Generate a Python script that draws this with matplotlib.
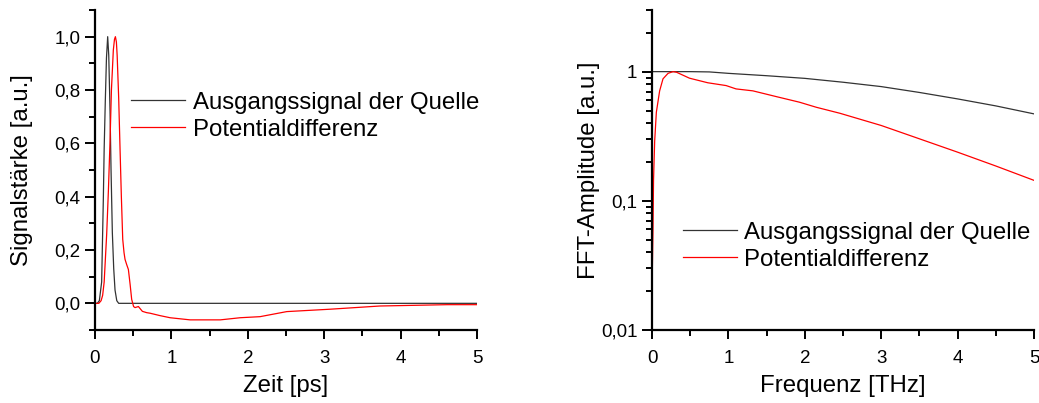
import numpy as np
import matplotlib.pyplot as plt
from matplotlib.ticker import MultipleLocator, FuncFormatter, LogLocator, NullFormatter

plt.rcParams['font.family'] = ['Liberation Sans', 'DejaVu Sans']

# Zeitbereich: Ausgangssignal der Quelle
t_src = [0.0, 0.03, 0.057, 0.087, 0.109, 0.12, 0.135, 0.15, 0.166, 0.18, 0.197, 0.21, 0.227, 0.245,
         0.262, 0.285, 0.31, 0.5, 1.0, 2.0, 3.0, 4.0, 5.0]
y_src = [0.0, 0.0, 0.01, 0.08, 0.39, 0.58, 0.76, 0.92, 1.0, 0.93, 0.72, 0.5, 0.265, 0.13,
         0.05, 0.01, 0.0, 0.0, 0.0, 0.0, 0.0, 0.0, 0.0]

# Zeitbereich: Potentialdifferenz
t_pot = [0.0, 0.05, 0.08, 0.10, 0.12, 0.153, 0.175, 0.197, 0.215, 0.24, 0.255, 0.267, 0.28, 0.29,
         0.31, 0.328, 0.345, 0.363, 0.38, 0.393, 0.415, 0.437, 0.46, 0.48, 0.505, 0.524,
         0.568, 0.62, 0.677, 0.72, 0.85, 0.983, 1.245, 1.64, 1.9, 2.16, 2.51, 3.08, 3.73, 4.61, 5.0]
y_pot = [0.0, 0.0, 0.01, 0.03, 0.08, 0.26, 0.42, 0.61, 0.8, 0.95, 0.99, 1.0, 0.98, 0.93,
         0.77, 0.577, 0.4, 0.24, 0.19, 0.165, 0.145, 0.127, 0.07, 0.015, -0.012, -0.016,
         -0.012, -0.03, -0.035, -0.037, -0.046, -0.054, -0.062, -0.062, -0.054, -0.05, -0.031, -0.022, -0.01, -0.005, -0.005]

# Frequenzbereich
f_src = [0.0, 0.5, 0.75, 1.0, 1.5, 2.0, 2.5, 3.0, 3.5, 4.0, 4.5, 5.0]
a_src = [1.0, 1.0, 0.995, 0.97, 0.93, 0.887, 0.828, 0.766, 0.69, 0.615, 0.543, 0.471]

f_pot = [0.005, 0.013, 0.02, 0.035, 0.057, 0.1, 0.144, 0.21, 0.275, 0.32, 0.49, 0.73, 0.97, 1.1,
         1.32, 1.63, 1.93, 2.15, 2.46, 3.0, 3.5, 4.0, 4.5, 5.0]
a_pot = [0.031, 0.06, 0.144, 0.29, 0.485, 0.71, 0.88, 0.97, 1.0, 0.99, 0.89, 0.82, 0.78, 0.735,
         0.71, 0.64, 0.58, 0.53, 0.476, 0.383, 0.302, 0.238, 0.186, 0.144]

fig = plt.figure(figsize=(10.39, 4.03), dpi=100)
W, H = 1039, 403
ax1 = fig.add_axes([95 / W, 1 - 330 / H, 382 / W, 320 / H])
ax2 = fig.add_axes([652 / W, 1 - 330 / H, 382 / W, 320 / H])

fs_lab = 17.3
fs_tick = 13.5

for ax in (ax1, ax2):
    for s in ('top', 'right'):
        ax.spines[s].set_visible(False)
    for s in ('left', 'bottom'):
        ax.spines[s].set_linewidth(1.6)
    ax.tick_params(which='major', direction='out', length=7, width=1.4, labelsize=fs_tick, pad=3.5)
    ax.tick_params(which='minor', direction='out', length=4.5, width=1.4)
    ax.tick_params(axis='x', which='major', length=6.5, pad=8)
    ax.set_xlim(0, 5)
    ax.xaxis.set_major_locator(MultipleLocator(1))
    ax.xaxis.set_minor_locator(MultipleLocator(0.5))

ax1.plot(t_src, y_src, color='#333333', lw=0.9, label='Ausgangssignal der Quelle')
ax1.plot(t_pot, y_pot, color='red', lw=0.9, label='Potentialdifferenz')
ax1.set_ylim(-0.1, 1.1)
ax1.yaxis.set_major_locator(MultipleLocator(0.2))
ax1.yaxis.set_minor_locator(MultipleLocator(0.1))
ax1.yaxis.set_major_formatter(FuncFormatter(lambda v, p: ('%.1f' % v).replace('.', ',').replace('-0,0', '0,0')))
ax1.set_xlabel('Zeit [ps]', fontsize=fs_lab)
ax1.set_ylabel('Signalstärke [a.u.]', fontsize=fs_lab)
ax1.xaxis.set_label_coords(0.5, -0.14)
ax1.yaxis.set_label_coords(-0.162, 0.5)
ax1.legend(loc='upper left', bbox_to_anchor=(0.07, 0.775), frameon=False, fontsize=fs_lab,
           handlelength=2.25, handletextpad=0.3, labelspacing=0.22, borderaxespad=0)

ax2.plot(f_src, a_src, color='#333333', lw=0.9, label='Ausgangssignal der Quelle')
ax2.plot(f_pot, a_pot, color='red', lw=0.9, label='Potentialdifferenz')
ax2.set_yscale('log')
ax2.set_ylim(0.01, 3)
ax2.yaxis.set_major_locator(LogLocator(base=10, numticks=10))
ax2.yaxis.set_minor_locator(LogLocator(base=10, subs=np.arange(2, 10), numticks=20))
ax2.yaxis.set_major_formatter(FuncFormatter(lambda v, p: ('%g' % v).replace('.', ',')))
ax2.yaxis.set_minor_formatter(NullFormatter())
ax2.set_xlabel('Frequenz [THz]', fontsize=fs_lab)
ax2.set_ylabel('FFT-Amplitude [a.u.]', fontsize=fs_lab)
ax2.xaxis.set_label_coords(0.5, -0.14)
ax2.yaxis.set_label_coords(-0.136, 0.5)
ax2.legend(loc='upper left', bbox_to_anchor=(0.055, 0.369), frameon=False, fontsize=fs_lab,
           handlelength=2.25, handletextpad=0.3, labelspacing=0.22, borderaxespad=0)

fig.savefig('out.png', dpi=100)
